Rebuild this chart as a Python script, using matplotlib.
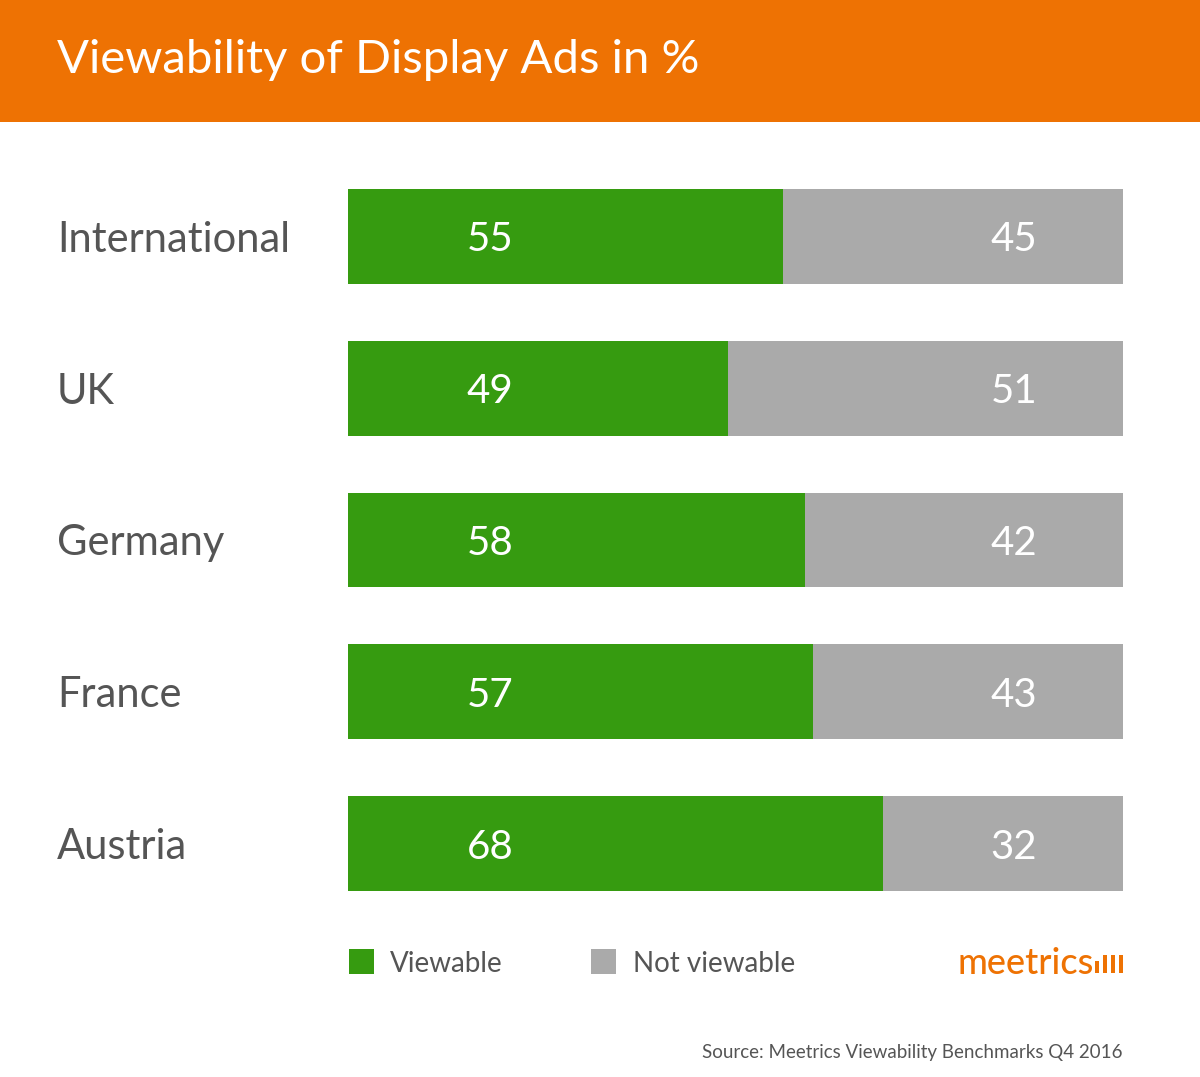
import matplotlib
matplotlib.use("Agg")
import matplotlib.pyplot as plt
from matplotlib.patches import Rectangle

plt.rcParams['font.family'] = ['Lato', 'DejaVu Sans']

categories = ["International", "UK", "Germany", "France", "Austria"]
# printed values
viewable_labels = [55, 49, 58, 57, 68]
not_viewable_labels = [45, 51, 42, 43, 32]
# bar lengths as drawn in the picture (percent of full bar)
viewable_bar = [56.1, 49.0, 59.0, 60.0, 69.0]
not_viewable_bar = [43.9, 51.0, 41.0, 40.0, 31.0]
title = "Viewability of Display Ads in %"
legend_labels = ["Viewable", "Not viewable"]
source = "Source: Meetrics Viewability Benchmarks Q4 2016"

GREEN = "#369B10"
GRAY = "#AAAAAA"
ORANGE = "#EE7203"
TEXT = "#555555"

W, H = 1200, 1077
fig = plt.figure(figsize=(W / 100, H / 100), dpi=100)
fig.patch.set_facecolor("white")

# orange header band
fig.patches.append(Rectangle((0, 1 - 122 / H), 1, 122 / H, transform=fig.transFigure,
                             facecolor=ORANGE, edgecolor="none", zorder=0))
fig.text(57 / W, 1 - 60 / H, title, color="white", fontsize=34,
         ha="left", va="center")

bar_h = 0.626
ax = fig.add_axes([348 / W, (H - 891) / H, 775 / W, 702 / H])
y = list(range(len(categories)))
ax.barh(y, viewable_bar, height=bar_h, color=GREEN, edgecolor="none")
ax.barh(y, not_viewable_bar, left=viewable_bar, height=bar_h, color=GRAY, edgecolor="none")
ax.set_xlim(0, 100)
ax.set_ylim(len(categories) - 1 + bar_h / 2, -bar_h / 2)
ax.axis("off")

for i, (v, n) in enumerate(zip(viewable_labels, not_viewable_labels)):
    ax.text(18.3, i, str(v), color="white", fontsize=29, ha="center", va="center_baseline")
    ax.text(85.9, i, str(n), color="white", fontsize=29, ha="center", va="center_baseline")
    ax.annotate(categories[i], xy=(0, i), xycoords=("axes fraction", "data"),
                xytext=(57, 0), textcoords=("figure pixels", "offset pixels"),
                color=TEXT, fontsize=30, ha="left", va="center_baseline")

# legend
leg_y = H - 961
sq = 25
for x0, col, lab, tx in [(349, GREEN, legend_labels[0], 390), (591, GRAY, legend_labels[1], 633)]:
    fig.patches.append(Rectangle((x0 / W, (leg_y - sq / 2) / H), sq / W, sq / H,
                                 transform=fig.transFigure, facecolor=col, edgecolor="none"))
    fig.text(tx / W, leg_y / H, lab, color=TEXT, fontsize=20, ha="left", va="center_baseline")

# logo
fig.text(957 / W, leg_y / H, "meetrics", color=ORANGE, fontsize=26, ha="left",
         va="center_baseline", fontweight="medium")
bar_specs = [(1095, 12), (1103, 18), (1111, 18), (1119, 18)]
base = H - 973
for bx, bh in bar_specs:
    fig.patches.append(Rectangle((bx / W, base / H), 3.5 / W, bh / H,
                                 transform=fig.transFigure, facecolor=ORANGE, edgecolor="none"))

fig.text(1123 / W, 1 - 1051 / H, source, color=TEXT, fontsize=13.5, ha="right", va="center_baseline")

fig.savefig("out.png", dpi=100)
